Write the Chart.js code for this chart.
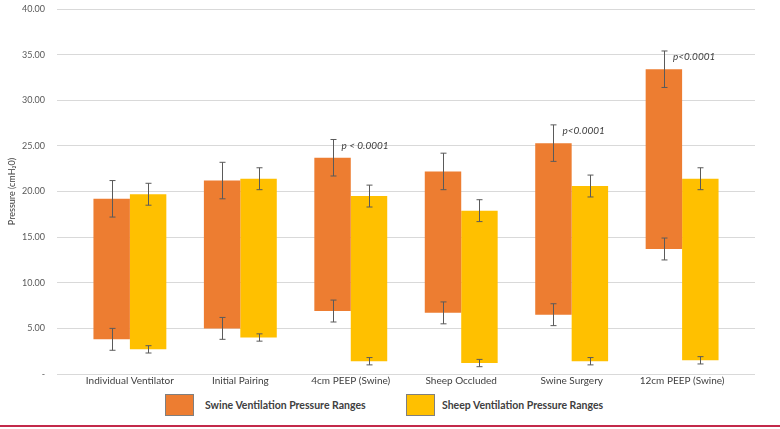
<!DOCTYPE html>
<html>
<head>
<meta charset="utf-8">
<script src="https://cdn.jsdelivr.net/npm/chart.js@4.4.1/dist/chart.umd.min.js"></script>
<style>
    body { margin: 0; background: #fff; font-family: Lato, sans-serif; }
    #wrap { width: 780px; height: 388px; position: relative; }
    #legend { position: absolute; top: 393px; left: 0; width: 780px; height: 24px; }
    .item { position: absolute; top: 0; display: flex; align-items: center; height: 24px; }
    .box { width: 27px; height: 20px; border: 1px solid #7f7f7f; margin-right: 11px; }
    .item span { font-size: 10.5px; font-weight: bold; color: #404040; }
    #rule { position: absolute; top: 425px; left: 0; width: 780px; height: 2px; background: #c3294a; }
</style>
</head>
<body>
<div id="wrap"><canvas id="chart"></canvas></div>
<div id="legend">
    <div class="item" style="left:165px"><div class="box" style="background:#ed7d31"></div><span id="l0"></span></div>
    <div class="item" style="left:406px"><div class="box" style="background:#ffc000; margin-right:7px"></div><span id="l1"></span></div>
</div>
<div id="rule"></div>
<script>
// Data
const categories = ['Individual Ventilator', 'Initial Pairing', '4cm PEEP (Swine)', 'Sheep Occluded', 'Swine Surgery', '12cm PEEP (Swine)'];
const seriesNames = ['Swine Ventilation Pressure Ranges', 'Sheep Ventilation Pressure Ranges'];
const swineLow  = [3.8, 5.0, 6.9, 6.7, 6.5, 13.7];
const swineHigh = [19.2, 21.2, 23.7, 22.2, 25.3, 33.4];
const sheepLow  = [2.7, 4.0, 1.4, 1.2, 1.4, 1.5];
const sheepHigh = [19.7, 21.4, 19.5, 17.9, 20.6, 21.4];
// error bar half-lengths (top / bottom of each range)
const swineErrHigh = [2.0, 2.0, 2.0, 2.0, 2.0, 2.0];
const swineErrLow  = [1.2, 1.2, 1.2, 1.2, 1.2, 1.2];
const sheepErrHigh = [1.2, 1.2, 1.2, 1.2, 1.2, 1.2];
const sheepErrLow  = [0.4, 0.4, 0.4, 0.4, 0.4, 0.4];
const pLabels = ['', '', 'p < 0.0001', '', 'p<0.0001', 'p<0.0001'];
const yTicks = [0, 5, 10, 15, 20, 25, 30, 35, 40];

const errors = [
    { high: swineErrHigh, low: swineErrLow },
    { high: sheepErrHigh, low: sheepErrLow }
];

document.getElementById('l0').textContent = seriesNames[0];
document.getElementById('l1').textContent = seriesNames[1];

// Draws the whiskers and the p-value notes
const errorBarPlugin = {
    id: 'errorBars',
    afterDatasetsDraw(chart) {
        const ctx = chart.ctx;
        const yScale = chart.scales.y;
        ctx.save();
        ctx.strokeStyle = '#5a5a5a';
        ctx.lineWidth = 1;
        chart.data.datasets.forEach((ds, di) => {
            const meta = chart.getDatasetMeta(di);
            meta.data.forEach((bar, i) => {
                const [lo, hi] = ds.data[i].y;
                const x = Math.round(bar.x) + 0.5;
                const pairs = [
                    [hi - errors[di].high[i], hi + errors[di].high[i]],
                    [lo - errors[di].low[i], lo + errors[di].low[i]]
                ];
                pairs.forEach(([a, b]) => {
                    const ya = yScale.getPixelForValue(a);
                    const yb = yScale.getPixelForValue(b);
                    ctx.beginPath();
                    ctx.moveTo(x, ya); ctx.lineTo(x, yb);
                    ctx.moveTo(x - 3, ya); ctx.lineTo(x + 3, ya);
                    ctx.moveTo(x - 3, yb); ctx.lineTo(x + 3, yb);
                    ctx.stroke();
                });
            });
        });
        // p-values above the swine bars
        const swineMeta = chart.getDatasetMeta(0);
        ctx.fillStyle = '#404040';
        ctx.font = 'italic 10px Lato';
        ctx.textBaseline = 'middle';
        pLabels.forEach((t, i) => {
            if (!t) return;
            const bar = swineMeta.data[i];
            const y = yScale.getPixelForValue(swineHigh[i] + swineErrHigh[i]);
            ctx.fillText(t, bar.x + 9, y + 6);
        });
        ctx.restore();
    }
};

new Chart(document.getElementById('chart'), {
    type: 'bar',
    data: {
        datasets: [
            {
                label: seriesNames[0],
                data: swineLow.map((lo, i) => ({ x: i, y: [lo, swineHigh[i]] })),
                backgroundColor: '#ed7d31',
                borderWidth: 0
            },
            {
                label: seriesNames[1],
                data: sheepLow.map((lo, i) => ({ x: i, y: [lo, sheepHigh[i]] })),
                backgroundColor: '#ffc000',
                borderWidth: 0
            }
        ]
    },
    options: {
        responsive: true,
        maintainAspectRatio: false,
        animation: false,
        categoryPercentage: 0.66,
        barPercentage: 1.0,
        layout: { padding: { top: 0, right: 25, left: 0, bottom: 0 } },
        plugins: {
            tooltip: { enabled: false },
            legend: { display: false }
        },
        scales: {
            x: {
                type: 'linear',
                offset: false,
                min: -0.66,
                max: 5.66,
                grid: { display: false, offset: false, drawTicks: false },
                border: { display: false },
                afterBuildTicks(scale) {
                    scale.ticks = categories.map((c, i) => ({ value: i }));
                },
                ticks: {
                    autoSkip: false,
                    maxRotation: 0,
                    padding: 1,
                    color: '#404040',
                    font: { family: 'Lato', size: 10 },
                    callback: v => categories[v]
                }
            },
            y: {
                min: 0,
                max: 40,
                afterBuildTicks(scale) {
                    scale.ticks = yTicks.map(v => ({ value: v }));
                },
                afterFit(scale) {
                    scale.width = 57;
                    scale.paddingTop = 9;
                    scale.paddingBottom = 0;
                },
                grid: { color: '#d9d9d9', drawTicks: false },
                border: { display: false },
                ticks: {
                    padding: 12,
                    color: '#595959',
                    font: { family: 'Lato', size: 9 },
                    callback: v => v === 0 ? '-' : v.toFixed(2)
                },
                title: {
                    display: true,
                    text: 'Pressure (cmH\u20820)',
                    color: '#404040',
                    font: { family: 'Lato', size: 9 },
                    padding: { top: 7, bottom: 2 }
                }
            }
        }
    },
    plugins: [errorBarPlugin]
});
</script>
</body>
</html>
